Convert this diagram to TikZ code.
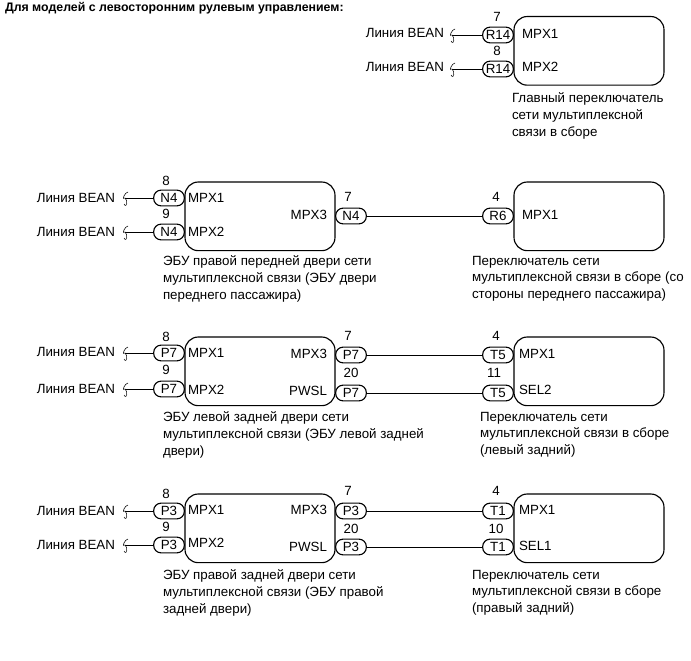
\documentclass[tikz,border=0pt]{standalone}
\usepackage{fontspec}
\setmainfont{Liberation Sans}
\tikzset{
  x=0.75pt,y=-0.75pt,
  every node/.style={inner sep=0pt,outer sep=0pt,font=\fontsize{10pt}{12.6pt}\selectfont},
  ecu/.style={draw,line width=0.85pt,rounded corners=10pt,minimum width=112.5pt,minimum height=51.5pt,anchor=north west},
  pill/.style={draw,line width=0.85pt,rounded corners=5.6pt,minimum width=23pt,minimum height=11.8pt,text depth=0pt,text height=7pt},
  lbl/.style={anchor=west},
  lblr/.style={anchor=east},
  num/.style={anchor=center},
  captxt/.style={anchor=north west,align=left,yshift=-0.75pt},
  wire/.style={line width=0.7pt},
  squig/.style={line width=0.4pt},
}
\newcommand{\squiggle}[1]{\draw[squig] ([shift={(3,-6)}]#1) .. controls +(-3,0) and +(-4,3) .. (#1) .. controls +(3,2) and +(3,5) .. ([shift={(-1,6)}]#1);}
\begin{document}
\begin{tikzpicture}
\useasboundingbox (0,0) rectangle (691,660);
\node[anchor=west,font=\fontsize{9.25pt}{11pt}\selectfont\bfseries] (title) at (5,8) {Для моделей с левосторонним рулевым управлением:};

% Row 1
\node[ecu] (b1) at (514,16.5) {};
\node[pill] (p1a) at (498,35) {R14};
\node[pill] (p1b) at (498,69) {R14};
\node[num] (n1a) at (497,17) {7};
\node[num] (n1b) at (497,51) {8};
\node[lbl] (m1a) at (522,34) {MPX1};
\node[lbl] (m1b) at (522,67) {MPX2};
\node[lblr] (l1a) at (444,33) {Линия BEAN};
\node[lblr] (l1b) at (444,67) {Линия BEAN};
\coordinate (s1a) at (452,35);
\coordinate (s1b) at (452,69);
\draw[wire] (s1a) -- (p1a);
\draw[wire] (s1b) -- (p1b);
\squiggle{s1a}\squiggle{s1b}
\node[captxt] (c1) at (512,92) {Главный переключатель\\сети мультиплексной\\связи в сборе};

% Row 2
\node[ecu] (b2l) at (185,182) {};
\node[ecu] (b2r) at (514,182) {};
\node[pill] (p2a) at (169,198) {N4};
\node[pill] (p2b) at (169,232) {N4};
\node[pill] (p2c) at (351,216) {N4};
\node[pill] (p2d) at (498,216) {R6};
\node[num] (n2a) at (166,181) {8};
\node[num] (n2b) at (166,214) {9};
\node[num] (n2c) at (348,197) {7};
\node[num] (n2d) at (496,197) {4};
\node[lbl] (m2a) at (188,198) {MPX1};
\node[lbl] (m2b) at (188,232) {MPX2};
\node[lblr] (m2c) at (327,215) {MPX3};
\node[lbl] (m2d) at (522,215) {MPX1};
\node[lblr] (l2a) at (115,198) {Линия BEAN};
\node[lblr] (l2b) at (115,232) {Линия BEAN};
\coordinate (s2a) at (125,198);
\coordinate (s2b) at (125,232);
\draw[wire] (s2a) -- (p2a);
\draw[wire] (s2b) -- (p2b);
\draw[wire] (p2c) -- (p2d);
\squiggle{s2a}\squiggle{s2b}
\node[captxt] (c2l) at (163,255) {ЭБУ правой передней двери сети\\мультиплексной связи (ЭБУ двери\\переднего пассажира)};
\node[captxt] (c2r) at (472,255) {Переключатель сети\\мультиплексной связи в сборе (со\\стороны переднего пассажира)};

% Row 3
\node[ecu] (b3l) at (185,337) {};
\node[ecu] (b3r) at (514,337) {};
\node[pill] (p3a) at (169,353) {P7};
\node[pill] (p3b) at (169,389) {P7};
\node[pill] (p3c) at (351,355) {P7};
\node[pill] (p3d) at (351,393) {P7};
\node[pill] (p3e) at (498,355) {T5};
\node[pill] (p3f) at (498,393) {T5};
\node[num] (n3a) at (166,337) {8};
\node[num] (n3b) at (166,370) {9};
\node[num] (n3c) at (348,336) {7};
\node[num] (n3d) at (351,373) {20};
\node[num] (n3e) at (496,336) {4};
\node[num] (n3f) at (494,373) {11};
\node[lbl] (m3a) at (188,353) {MPX1};
\node[lbl] (m3b) at (188,390) {MPX2};
\node[lblr] (m3c) at (327,354) {MPX3};
\node[lblr] (m3d) at (327,391) {PWSL};
\node[lbl] (m3e) at (519,354) {MPX1};
\node[lbl] (m3f) at (519,390) {SEL2};
\node[lblr] (l3a) at (115,352) {Линия BEAN};
\node[lblr] (l3b) at (115,389) {Линия BEAN};
\coordinate (s3a) at (125,353);
\coordinate (s3b) at (125,389);
\draw[wire] (s3a) -- (p3a);
\draw[wire] (s3b) -- (p3b);
\draw[wire] (p3c) -- (p3e);
\draw[wire] (p3d) -- (p3f);
\squiggle{s3a}\squiggle{s3b}
\node[captxt] (c3l) at (163,411) {ЭБУ левой задней двери сети\\мультиплексной связи (ЭБУ левой задней\\двери)};
\node[captxt] (c3r) at (480,411) {Переключатель сети\\мультиплексной связи в сборе\\(левый задний)};

% Row 4
\node[ecu] (b4l) at (185,494) {};
\node[ecu] (b4r) at (514,494) {};
\node[pill] (p4a) at (169,511) {P3};
\node[pill] (p4b) at (169,545) {P3};
\node[pill] (p4c) at (351,511) {P3};
\node[pill] (p4d) at (351,547) {P3};
\node[pill] (p4e) at (498,511) {T1};
\node[pill] (p4f) at (498,547) {T1};
\node[num] (n4a) at (166,494) {8};
\node[num] (n4b) at (166,527) {9};
\node[num] (n4c) at (348,491) {7};
\node[num] (n4d) at (351,529) {20};
\node[num] (n4e) at (496,491) {4};
\node[num] (n4f) at (496,529) {10};
\node[lbl] (m4a) at (188,510) {MPX1};
\node[lbl] (m4b) at (188,543) {MPX2};
\node[lblr] (m4c) at (327,510) {MPX3};
\node[lblr] (m4d) at (327,547) {PWSL};
\node[lbl] (m4e) at (519,510) {MPX1};
\node[lbl] (m4f) at (519,546) {SEL1};
\node[lblr] (l4a) at (115,511) {Линия BEAN};
\node[lblr] (l4b) at (115,545) {Линия BEAN};
\coordinate (s4a) at (125,511);
\coordinate (s4b) at (125,545);
\draw[wire] (s4a) -- (p4a);
\draw[wire] (s4b) -- (p4b);
\draw[wire] (p4c) -- (p4e);
\draw[wire] (p4d) -- (p4f);
\squiggle{s4a}\squiggle{s4b}
\node[captxt] (c4l) at (163,569) {ЭБУ правой задней двери сети\\мультиплексной связи (ЭБУ правой\\задней двери)};
\node[captxt] (c4r) at (472,569) {Переключатель сети\\мультиплексной связи в сборе\\(правый задний)};
\end{tikzpicture}
\end{document}
